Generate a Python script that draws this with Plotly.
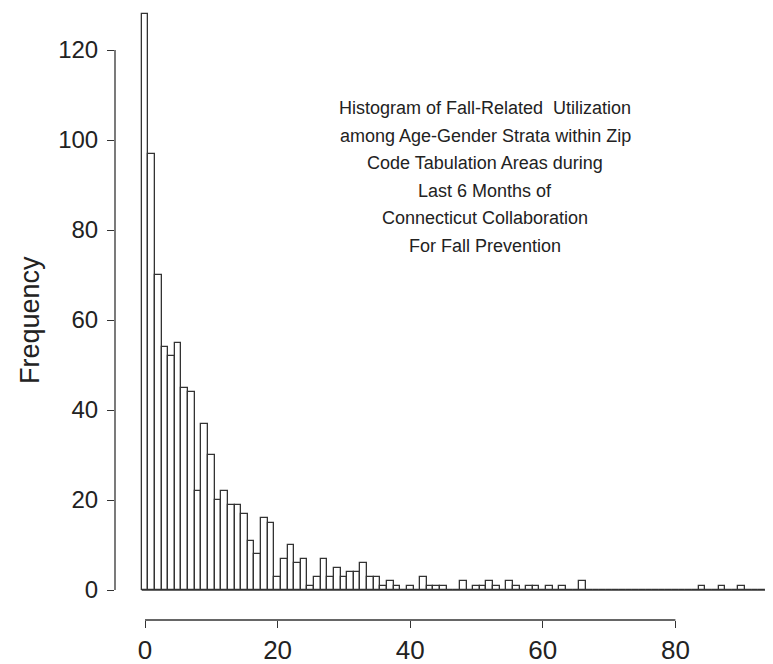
import plotly.graph_objects as go

# Histogram bins (unit width, centred on integers) and their counts
bin_centers = list(range(0, 95))
counts = [128, 97, 70, 54, 52, 55, 45, 44, 22, 37,
          30, 20, 22, 19, 19, 17, 11, 8, 16, 15,
          3, 7, 10, 6, 7, 1, 3, 7, 3, 5,
          3, 4, 4, 6, 3, 3, 1, 2, 1, 0,
          1, 0, 3, 1, 1, 1, 0, 0, 2, 0,
          1, 1, 2, 1, 0, 2, 1, 0, 1, 1,
          0, 1, 0, 1, 0, 0, 2, 0, 0, 0,
          0, 0, 0, 0, 0, 0, 0, 0, 0, 0,
          0, 0, 0, 0, 1, 0, 0, 1, 0, 0,
          1, 0, 0, 0, 0]

x_ticks = [0, 20, 40, 60, 80]
y_ticks = [0, 20, 40, 60, 80, 100, 120]
y_label = "Frequency"
title_lines = [
    "Histogram of Fall-Related&nbsp; Utilization",
    "among Age-Gender Strata within Zip",
    "Code Tabulation Areas during",
    "Last 6 Months of",
    "Connecticut Collaboration",
    "For Fall Prevention",
]

INK = "#333333"
OFF = 8  # page body margin around the figure div
PAGE_W, PAGE_H = 773, 664
W, H = PAGE_W - OFF, PAGE_H - OFF

# layout in page pixels
axis_left_px = 115     # y-axis line
plot_top_px = 5
axis_bottom_px = 620   # x-axis line
ML = axis_left_px - OFF
MT = plot_top_px - OFF if plot_top_px - OFF > 0 else 0
MB = PAGE_H - axis_bottom_px
MR = 0
pw = W - ML - MR
ph = H - MT - MB
top_page_px = OFF + MT

fig = go.Figure()
fig.add_trace(go.Bar(
    x=bin_centers, y=counts, width=1,
    marker=dict(color="white", line=dict(color=INK, width=1.3)),
    showlegend=False, hoverinfo="x+y",
))
# baseline of the zero-height bins
fig.add_trace(go.Scatter(
    x=[bin_centers[0] - 0.5, bin_centers[-1] + 0.5], y=[0, 0],
    mode="lines", line=dict(color=INK, width=1.3),
    showlegend=False, hoverinfo="skip",
))

px_per_x = 6.63
x_zero_px = 145
xr = [(axis_left_px - x_zero_px) / px_per_x, (PAGE_W - x_zero_px) / px_per_x]
px_per_y = 4.5
y_zero_px = 590
yr = [-(axis_bottom_px - y_zero_px) / px_per_y, (y_zero_px - top_page_px) / px_per_y]

fig.update_layout(
    width=W, height=H,
    margin=dict(l=ML, r=MR, t=MT, b=MB, pad=0, autoexpand=False),
    paper_bgcolor="white", plot_bgcolor="white",
    bargap=0,
    xaxis=dict(range=xr, tickvals=x_ticks, ticks="outside", ticklen=7,
               tickwidth=1.3, tickcolor=INK, showgrid=False, zeroline=False,
               showline=False, automargin=False, ticklabelstandoff=0,
               tickfont=dict(family="Liberation Sans Narrow, Arial Narrow, Liberation Sans, Arial",
                             size=26, color="#222")),
    yaxis=dict(range=yr, tickvals=y_ticks, ticks="outside", ticklen=7,
               tickwidth=1.3, tickcolor=INK, showgrid=False, zeroline=False,
               showline=False, automargin=False, ticklabelstandoff=4,
               tickfont=dict(family="Liberation Sans, Arial", size=24, color="#222")),
)

# R-style detached axis lines spanning first..last tick
fig.add_shape(type="line", xref="x", yref="paper", x0=x_ticks[0], x1=x_ticks[-1],
              y0=0, y1=0, line=dict(color=INK, width=1.3))
fig.add_shape(type="line", xref="paper", yref="y", x0=0, x1=0,
              y0=y_ticks[0], y1=y_ticks[-1], line=dict(color=INK, width=1.3))


def paper_x(page_px):
    return (page_px - axis_left_px) / pw


def paper_y(page_px):
    return (axis_bottom_px - page_px) / ph


fig.add_annotation(text=y_label, textangle=-90, xref="paper", yref="paper",
                   x=paper_x(30), y=paper_y(320), showarrow=False,
                   xanchor="center", yanchor="middle",
                   font=dict(family="Liberation Sans, Arial", size=27, color="#222"))

top_px, step_px, cx_px = 108, 27.6, 485
for i, line in enumerate(title_lines):
    fig.add_annotation(text=line, xref="paper", yref="paper",
                       x=paper_x(cx_px), y=paper_y(top_px + i * step_px),
                       showarrow=False, xanchor="center", yanchor="middle",
                       font=dict(family="Liberation Sans, Arial", size=18, color="#222"))

fig.write_html("out.html")
